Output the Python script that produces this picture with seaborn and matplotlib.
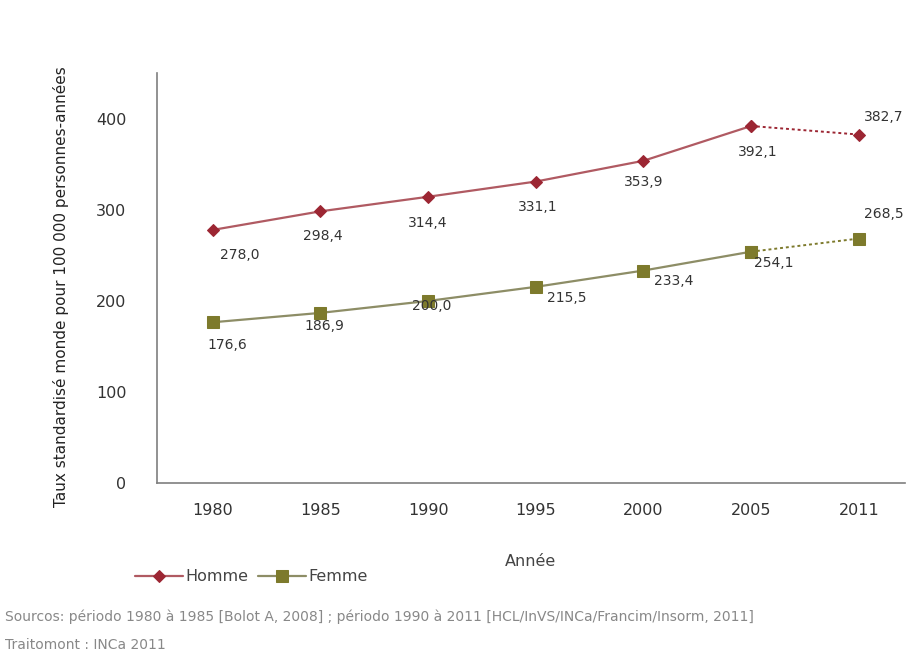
import matplotlib
matplotlib.use("Agg")
import matplotlib.pyplot as plt
import seaborn as sns
import pandas as pd
import numpy as np

years = ["1980", "1985", "1990", "1995", "2000", "2005", "2011"]
homme = [278.0, 298.4, 314.4, 331.1, 353.9, 392.1, 382.7]
femme = [176.6, 186.9, 200.0, 215.5, 233.4, 254.1, 268.5]
yticks = [0, 100, 200, 300, 400]

sns.set_theme(style="white")
plt.rcParams['font.family'] = ['DejaVu Sans']

fig = plt.figure(figsize=(9.17, 6.6), dpi=100)
ax = fig.add_axes([0.171, 0.268, 0.816, 0.621])

idx = np.arange(len(years))
df = pd.DataFrame({"x": idx, "Homme": homme, "Femme": femme})

c_h_line = "#b05a62"
c_h_mark = "#9c2633"
c_f_line = "#8d8d66"
c_f_mark = "#7d7a2c"

solid = df.iloc[:6]
dotted = df.iloc[5:]

sns.lineplot(data=solid, x="x", y="Homme", ax=ax, color=c_h_line, lw=1.6,
             marker="D", markersize=6, markerfacecolor=c_h_mark, markeredgecolor=c_h_mark,
             label="Homme")
sns.lineplot(data=dotted, x="x", y="Homme", ax=ax, color=c_h_mark, lw=1.4, linestyle=(0, (1.5, 1.5)),
             marker="D", markersize=6, markerfacecolor=c_h_mark, markeredgecolor=c_h_mark,
             legend=False)
sns.lineplot(data=solid, x="x", y="Femme", ax=ax, color=c_f_line, lw=1.6,
             marker="s", markersize=8, markerfacecolor=c_f_mark, markeredgecolor=c_f_mark,
             label="Femme")
sns.lineplot(data=dotted, x="x", y="Femme", ax=ax, color=c_f_mark, lw=1.4, linestyle=(0, (1.5, 1.5)),
             marker="s", markersize=8, markerfacecolor=c_f_mark, markeredgecolor=c_f_mark,
             legend=False)

def fmt(v):
    return f"{v:.1f}".replace(".", ",")

txt_color = "#333333"
h_off = [(27, -25), (2, -25), (0, -26), (2, -25), (0, -21), (7, -26), (25, 18)]
f_off = [(15, -23), (4, -13), (4, -5), (31, -11), (30, -10), (23, -11), (25, 25)]
for i in range(len(years)):
    ax.annotate(fmt(homme[i]), (idx[i], homme[i]), xytext=h_off[i], textcoords="offset pixels",
                ha="center", va="center", fontsize=10, color=txt_color)
    ax.annotate(fmt(femme[i]), (idx[i], femme[i]), xytext=f_off[i], textcoords="offset pixels",
                ha="center", va="center", fontsize=10, color=txt_color)

ax.set_xlim(-0.52, 6.43)
ax.set_ylim(0, 450)
ax.set_xticks(idx)
ax.set_xticklabels(years)
ax.set_yticks(yticks)
ax.tick_params(axis="both", length=0, labelsize=11.5, labelcolor="#333333")
ax.tick_params(axis="x", pad=14)
ax.tick_params(axis="y", pad=22)
for s in ["top", "right"]:
    ax.spines[s].set_visible(False)
for s in ["left", "bottom"]:
    ax.spines[s].set_color("#7f7f7f")
    ax.spines[s].set_linewidth(1.2)

ax.set_xlabel("Année", fontsize=11.5, color="#444444", labelpad=26)
ax.set_ylabel("Taux standardisé monde pour 100 000 personnes-années", fontsize=11,
              color="#222222")
ax.yaxis.set_label_coords(-0.117, 0.48)

leg = ax.legend(loc="upper left", bbox_to_anchor=(-0.048, -0.175), ncol=2, frameon=False,
                fontsize=11.5, handlelength=3.0, columnspacing=0.6, handletextpad=0.15)
for t in leg.get_texts():
    t.set_color("#444444")

fig.text(0.005, 0.065, "Sourcos: périodo 1980 à 1985 [Bolot A, 2008] ; périodo 1990 à 2011 [HCL/InVS/INCa/Francim/Insorm, 2011]",
         fontsize=10, color="#888888", va="center")
fig.text(0.005, 0.022, "Traitomont : INCa 2011", fontsize=10, color="#888888", va="center")

fig.savefig("out.png", dpi=100)
